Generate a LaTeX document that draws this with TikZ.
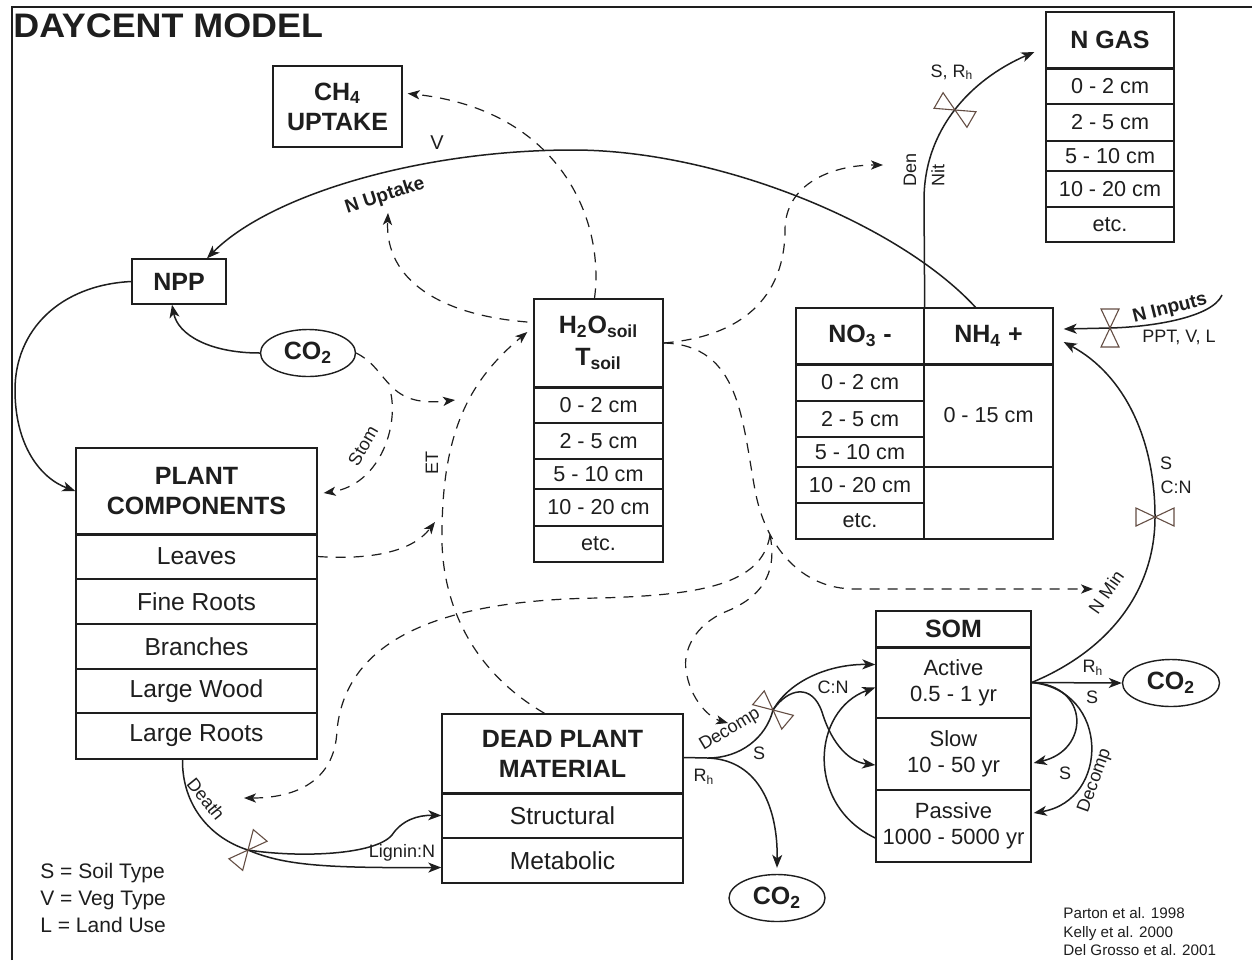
\documentclass[tikz,border=0pt]{standalone}
\usepackage{fontspec}
\usepackage{graphicx}
\setmainfont{Liberation Sans}
\usetikzlibrary{arrows.meta,shapes.geometric,calc}
\definecolor{ink}{RGB}{30,30,30}
\definecolor{valvec}{RGB}{100,78,68}
\tikzset{
  valve/.pic={\draw[valvec,line width=0.55pt,line join=miter] (0,0) -- (-19,-9) -- (-19,9) -- cycle (0,0) -- (19,-9) -- (19,9) -- cycle;},
  cell/.style n args={4}{minimum width={(#3-#1)*0.5pt},minimum height={(#4-#2)*0.5pt},at={({(#1+#3)/2},{(#2+#4)/2})}},
  box/.style={draw=ink,line width=0.7pt,inner sep=0pt,align=center,text=ink},
  hd/.style={box,font=\fontsize{12.5}{15}\selectfont\bfseries},
  rowc/.style={box,font=\fontsize{12.3}{14}\selectfont},
  depth/.style={box,font=\fontsize{10.8}{13}\selectfont},
  somc/.style={box,font=\fontsize{11}{13}\selectfont},
  flow/.style={draw=ink,line width=0.75pt,-{Stealth[length=6.5pt,width=5pt,inset=1.8pt]}},
  plain/.style={draw=ink,line width=0.75pt},
  dflow/.style={draw=ink,line width=0.6pt,dash pattern=on 5pt off 4pt,-{Stealth[length=6pt,width=4.6pt,inset=1.6pt]}},
  lbl/.style={font=\fontsize{9}{10}\selectfont,text=ink,inner sep=0pt},
  blbl/.style={font=\fontsize{9.5}{11}\selectfont\bfseries,text=ink,inner sep=0pt},
  sep/.style={draw=ink,line width=1.2pt}
}
\begin{document}
\begin{tikzpicture}[x=0.5pt,y=-0.5pt]
\useasboundingbox (0,0) rectangle (1252,960);
\fill[white] (0,0) rectangle (1252,960);
\draw[ink,line width=1pt] (12,960) -- (12,7) -- (1252,7);

\node[anchor=base west,inner sep=0pt,text=ink,font=\fontsize{17}{20}\selectfont\bfseries] (title) at (13,37) {\scalebox{1.055}[1]{DAYCENT MODEL}};

% ---------- boxes ----------
\node[hd,cell={273}{66}{402}{147}] (ch4) {CH\textsubscript{4}\\UPTAKE};
\node[hd,cell={132}{259}{226}{304}] (npp) {NPP};
\node[hd,ellipse,minimum width=47.5pt,minimum height=23.5pt] (co2a) at (308,353) {CO\textsubscript{2}};
\node[hd,ellipse,minimum width=48pt,minimum height=23.5pt] (co2b) at (777,898) {CO\textsubscript{2}};
\node[hd,ellipse,minimum width=48.5pt,minimum height=23.5pt] (co2c) at (1171,683) {CO\textsubscript{2}};

\node[hd,cell={76}{448}{317}{534}] (pch) {PLANT\\COMPONENTS};
\node[rowc,cell={76}{534}{317}{579}] (leaves) {Leaves};
\node[rowc,cell={76}{579}{317}{624}] (froots) {Fine Roots};
\node[rowc,cell={76}{624}{317}{669}] (branches) {Branches};
\node[rowc,cell={76}{669}{317}{713}] (lwood) {Large Wood};
\node[rowc,cell={76}{713}{317}{759}] (lroots) {Large Roots};

\node[hd,cell={534}{299}{663}{387}] (h2oh) {H\textsubscript{2}O\textsubscript{soil}\\[1pt]T\textsubscript{soil}};
\node[depth,cell={534}{387}{663}{423}] (h1) {0 - 2 cm};
\node[depth,cell={534}{423}{663}{459}] (h2) {2 - 5 cm};
\node[depth,cell={534}{459}{663}{489}] (h3) {5 - 10 cm};
\node[depth,cell={534}{489}{663}{526}] (h4) {10 - 20 cm};
\node[depth,cell={534}{526}{663}{562}] (h5) {etc.};

\node[hd,cell={796}{308}{924}{364}] (no3) {NO\textsubscript{3} -};
\node[hd,cell={924}{308}{1053}{364}] (nh4) {NH\textsubscript{4} +};
\node[depth,cell={796}{364}{924}{401}] (n1) {0 - 2 cm};
\node[depth,cell={796}{401}{924}{437}] (n2) {2 - 5 cm};
\node[depth,cell={796}{437}{924}{467}] (n3) {5 - 10 cm};
\node[depth,cell={796}{467}{924}{503}] (n4) {10 - 20 cm};
\node[depth,cell={796}{503}{924}{539}] (n5) {etc.};
\node[depth,cell={924}{364}{1053}{467}] (nh4a) {0 - 15 cm};
\node[depth,cell={924}{467}{1053}{539}] (nh4b) {};

\node[hd,cell={1046}{12}{1174}{68}] (ngash) {N GAS};
\node[depth,cell={1046}{68}{1174}{104}] (g1) {0 - 2 cm};
\node[depth,cell={1046}{104}{1174}{141}] (g2) {2 - 5 cm};
\node[depth,cell={1046}{141}{1174}{171}] (g3) {5 - 10 cm};
\node[depth,cell={1046}{171}{1174}{207}] (g4) {10 - 20 cm};
\node[depth,cell={1046}{207}{1174}{242}] (g5) {etc.};

\node[hd,cell={876}{611}{1031}{647}] (somh) {SOM};
\node[somc,cell={876}{647}{1031}{718}] (active) {Active\\0.5 - 1 yr};
\node[somc,cell={876}{718}{1031}{790}] (slow) {Slow\\10 - 50 yr};
\node[somc,cell={876}{790}{1031}{862}] (passive) {Passive\\1000 - 5000 yr};

\node[hd,cell={442}{714}{683}{793}] (dpmh) {DEAD PLANT\\MATERIAL};
\node[rowc,cell={442}{793}{683}{838}] (struct) {Structural};
\node[rowc,cell={442}{838}{683}{883}] (metab) {Metabolic};

\foreach \n in {pch,h2oh,no3,nh4,ngash,somh,dpmh}
  \draw[sep] (\n.south west) -- (\n.south east);

% ---------- named points ----------
\coordinate (ninsrc) at (1222,295);
\coordinate (junc) at (770,535);
\coordinate (dvalve) at (773,710);
\coordinate (deathvalve) at (248,850);
\coordinate (dpmj) at (708,758);
\coordinate (stomj) at (391,394);
\coordinate (co2tip) at (455,400);
\coordinate (leaftip) at (435,522);
\coordinate (nuptip) at (388,213);
\coordinate (dentip) at (883,165);
\coordinate (nmintip) at (1093,589);
\coordinate (deathtip) at (244,798);
\coordinate (decomptip) at (728,723);

% ---------- solid flows ----------
\draw[flow] ($(nh4.north)+(-13,0)$) .. controls (900,225) and (720,150) .. (573,150)
   .. controls (420,150) and (270,195) .. ($(npp.north)+(28,0)$);
\draw[flow] (npp.west) .. controls (60,285) and (15,330) .. (15,390)
   .. controls (15,445) and (40,478) .. (pch.west);
\draw[flow] (co2a.west) .. controls (210,353) and (178,335) .. ($(npp.south)+(-7,0)$);
\draw[flow] (no3.north east) -- (924,200) .. controls (924,130) and (970,80) .. ($(ngash.west)+(-11,12)$);
\draw[flow] (ninsrc) .. controls (1212,318) and (1150,327) .. (1110,328) -- ($(nh4.east)+(10,-7)$);
\draw[flow] (active.east) .. controls (1110,650) and (1155,590) .. (1155,517)
   .. controls (1155,440) and (1125,375) .. ($(nh4.east)+(10,6)$);
\draw[flow] (active.east) -- (co2c.west);
\draw[flow] (active.east) .. controls (1090,685) and (1090,750) .. ($(slow.east)+(2,9)$);
\draw[flow] (active.east) .. controls (1110,690) and (1110,800) .. ($(passive.east)+(2,-13)$);
\draw[plain] ($(dpmh.east)+(0,4)$) -- (dpmj) .. controls (740,758) and (766,738) .. (dvalve);
\draw[flow] (dpmj) .. controls (760,760) and (778,810) .. ($(co2b.north)+(0,-6)$);
\draw[flow] (dvalve) .. controls (790,680) and (830,664) .. ($(active.west)+(0,-18)$);
\draw[flow] (dvalve) .. controls (788,688) and (812,683) .. (822,712)
   .. controls (832,745) and (850,762) .. ($(slow.west)+(0,11)$);
\draw[flow] ($(passive.west)+(0,12)$) .. controls (805,805) and (812,710) .. ($(active.west)+(0,5)$);
\draw[plain] ($(lroots.south)+(-14,0)$) .. controls (182,805) and (210,838) .. (deathvalve);
\draw[flow] (deathvalve) .. controls (300,858) and (375,855) .. (392,835)
   .. controls (402,820) and (418,815) .. (struct.west);
\draw[flow] (deathvalve) .. controls (285,866) and (330,868) .. ($(metab.west)+(0,7)$);

% ---------- valves ----------
\pic[rotate=-30] at (955,110) {valve};
\pic[rotate=90] at (1110,328) {valve};
\pic[rotate=0] at (1155,517) {valve};
\pic[rotate=-40] at (dvalve) {valve};
\pic[rotate=50] at (deathvalve) {valve};

% ---------- dashed flows ----------
\draw[dflow] (co2a.east) .. controls (390,370) and (385,408) .. (co2tip);
\draw[dflow] (stomj) .. controls (398,430) and (378,485) .. ($(pch.east)+(6,2)$);
\draw[dflow] ($(dpmh.north)+(-18,0)$) .. controls (470,670) and (440,600) .. (442,530)
   .. controls (443,430) and (470,380) .. ($(h2oh.west)+(-6,-11)$);
\draw[dflow] (leaves.east) .. controls (370,560) and (412,552) .. (leaftip);
\draw[dflow] ($(h2oh.north)+(-4,0)$) .. controls (605,220) and (560,110) .. ($(ch4.east)+(5,-13)$);
\draw[dflow] ($(h2oh.west)+(-6,-21)$) .. controls (440,315) and (385,280) .. (nuptip);
\draw[dflow] (h2oh.east) .. controls (760,335) and (785,280) .. (785,230)
   .. controls (785,185) and (830,165) .. (dentip);
\draw[dflow] (h2oh.east) .. controls (740,345) and (742,420) .. (755,490)
   .. controls (765,545) and (800,589) .. (855,589) -- (nmintip);
\draw[dflow] (junc) .. controls (762,585) and (700,595) .. (600,598)
   .. controls (420,600) and (345,650) .. (337,730)
   .. controls (335,785) and (290,798) .. (deathtip);
\draw[dflow] (junc) .. controls (778,575) and (760,598) .. (725,612)
   .. controls (695,625) and (683,650) .. (686,670)
   .. controls (690,700) and (710,718) .. (decomptip);

% ---------- labels ----------
\node[lbl,font=\fontsize{10}{11}\selectfont] (vlab) at (437,143) {V};
\node[blbl,rotate=18] (nuplab) at (385,196) {N Uptake};
\node[lbl] (srh) at (952,72) {S, R\textsubscript{h}};
\node[lbl,rotate=90] (den) at (910,170) {Den};
\node[lbl,rotate=90] (nit) at (938,175) {Nit};
\node[blbl,rotate=14] (ninlab) at (1170,309) {N Inputs};
\node[lbl] (ppt) at (1179,337) {PPT, V, L};
\node[lbl] (scn1) at (1166,463) {S};
\node[lbl] (scn2) at (1176,487) {C:N};
\node[lbl,rotate=55] (nmin) at (1106,592) {N Min};
\node[lbl] (rh1) at (1093,668) {R\textsubscript{h}};
\node[lbl] (s1) at (1092,697) {S};
\node[lbl] (s2) at (1065,773) {S};
\node[lbl,rotate=70] (decomp2) at (1095,781) {Decomp};
\node[lbl] (cn) at (833,687) {C:N};
\node[lbl,rotate=31] (decomp1) at (730,730) {Decomp};
\node[lbl] (s3) at (759,753) {S};
\node[lbl] (rh2) at (704,777) {R\textsubscript{h}};
\node[lbl,rotate=-51] (death) at (206,799) {Death};
\node[lbl] (lignin) at (402,853) {Lignin:N};
\node[lbl,rotate=60] (stom) at (363,446) {Stom};
\node[lbl,rotate=90] (et) at (432,463) {ET};

% ---------- legend and references ----------
\node[anchor=base west,inner sep=0pt,text=ink,font=\fontsize{10.5}{12}\selectfont] (leg1) at (40,878) {S = Soil Type};
\node[anchor=base west,inner sep=0pt,text=ink,font=\fontsize{10.5}{12}\selectfont] (leg2) at (40,905) {V = Veg Type};
\node[anchor=base west,inner sep=0pt,text=ink,font=\fontsize{10.5}{12}\selectfont] (leg3) at (40,932) {L = Land Use};
\node[anchor=base west,inner sep=0pt,text=ink,font=\fontsize{7.6}{9}\selectfont] (ref1) at (1063,918) {Parton et al. 1998};
\node[anchor=base west,inner sep=0pt,text=ink,font=\fontsize{7.6}{9}\selectfont] (ref2) at (1063,937) {Kelly et al. 2000};
\node[anchor=base west,inner sep=0pt,text=ink,font=\fontsize{7.6}{9}\selectfont] (ref3) at (1063,955) {Del Grosso et al. 2001};
\end{tikzpicture}
\end{document}
